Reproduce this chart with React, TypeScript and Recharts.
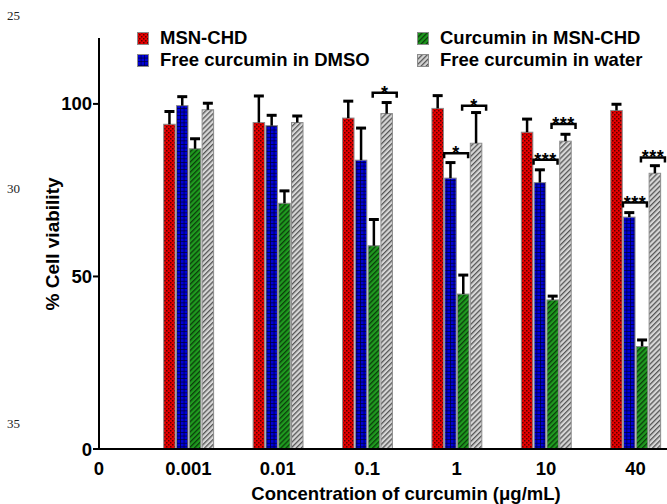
import { Bar, ComposedChart, Scatter, XAxis, YAxis } from "recharts";

const categories = ["0", "0.001", "0.01", "0.1", "1", "10", "40"];

// % cell viability (mean) and upper SD for each concentration 0.001 .. 40
const msnChd = [94.1, 94.6, 95.9, 98.7, 91.8, 98.1];
const msnChdErr = [3.7, 7.7, 4.9, 3.7, 3.8, 1.8];
const freeDmso = [99.5, 93.7, 83.7, 78.5, 77.2, 67.2];
const freeDmsoErr = [2.6, 3.0, 9.3, 4.5, 3.7, 1.3];
const curMsnChd = [87.0, 71.2, 58.9, 44.9, 43.2, 29.7];
const curMsnChdErr = [2.9, 3.6, 7.6, 5.5, 1.1, 1.9];
const freeWater = [98.3, 94.6, 97.2, 88.6, 89.2, 79.9];
const freeWaterErr = [1.9, 1.9, 3.2, 8.9, 2.0, 2.2];

// significance brackets
const bracketCats = ["0.1", "1", "1", "10", "10", "40", "40"];
const bracketPairs = ["gg", "bg", "gg", "bg", "gg", "bg", "gg"];
const bracketLevels = [103.2, 85.7, 99.5, 83.8, 94.2, 71.4, 84.5];
const bracketStars = ["*", "*", "*", "***", "***", "***", "***"];

const yTicks = [0, 50, 100];

const rows = msnChd.map((v, i) => ({
  pos: i + 1,
  msn: v,
  msnErr: msnChdErr[i],
  dmso: freeDmso[i],
  dmsoErr: freeDmsoErr[i],
  cur: curMsnChd[i],
  curErr: curMsnChdErr[i],
  water: freeWater[i],
  waterErr: freeWaterErr[i],
}));

const brackets = bracketCats.map((c, i) => ({
  pos: categories.indexOf(c),
  level: bracketLevels[i],
  pair: bracketPairs[i],
  stars: bracketStars[i],
}));

const FONT = "'Liberation Sans', Arial, Helvetica, sans-serif";

function Patterns({ suffix = "" }: { suffix?: string }) {
  return (
    <defs>
      <pattern id={"pRed" + suffix} width="4" height="4" patternUnits="userSpaceOnUse">
        <rect width="4" height="4" fill="#e80000" />
        <rect x="0" y="0" width="1.5" height="1.5" fill="#5a0000" />
        <rect x="2" y="2" width="1.5" height="1.5" fill="#5a0000" />
      </pattern>
      <pattern id={"pBlue" + suffix} width="3.6" height="3.6" patternUnits="userSpaceOnUse">
        <rect width="3.6" height="3.6" fill="#0000dc" />
        <rect x="0" y="0" width="3.6" height="0.7" fill="#000033" />
        <rect x="0" y="0" width="0.7" height="3.6" fill="#000033" />
      </pattern>
      <pattern id={"pGreen" + suffix} width="3.6" height="3.6" patternUnits="userSpaceOnUse" patternTransform="rotate(45)">
        <rect width="3.6" height="3.6" fill="#1f9a1f" />
        <rect x="0" y="0" width="1.3" height="3.6" fill="#0b3d0b" />
      </pattern>
      <pattern id={"pGray" + suffix} width="3.6" height="3.6" patternUnits="userSpaceOnUse" patternTransform="rotate(45)">
        <rect width="3.6" height="3.6" fill="#d6d6d6" />
        <rect x="0" y="0" width="1.3" height="3.6" fill="#555555" />
      </pattern>
    </defs>
  );
}

const makeShape = (valKey: string, errKey: string) => (props: any) => {
  const { x, y, width, height, fill, payload } = props;
  const v = payload[valKey];
  const e = payload[errKey];
  const k = v ? height / v : 0;
  const top = y - e * k;
  const cx = x + width / 2;
  return (
    <g>
      <rect x={x} y={y} width={width} height={height} fill={fill} stroke="#8c8c8c" strokeWidth={1} />
      <line x1={cx} y1={y} x2={cx} y2={top} stroke="#000" strokeWidth={2.5} />
      <line x1={cx - 5} y1={top} x2={cx + 5} y2={top} stroke="#000" strokeWidth={3} />
    </g>
  );
};

const BracketShape = (props: any) => {
  const { cx, cy, payload } = props;
  const mid = cx + (payload.pair === "gg" ? 17.5 : -0.5);
  const half = 12;
  return (
    <g>
      <path
        d={`M${mid - half},${cy + 5} V${cy} H${mid + half} V${cy + 5}`}
        fill="none"
        stroke="#000"
        strokeWidth={2.5}
      />
      <text
        x={mid}
        y={cy + 6}
        textAnchor="middle"
        fontSize={18}
        fontWeight="bold"
        fontFamily={FONT}
        letterSpacing={0.5}
        fill="#000"
      >
        {payload.stars}
      </text>
    </g>
  );
};

const legendItems = [
  { label: "MSN-CHD", fill: "pRed", left: 137, top: 27 },
  { label: "Curcumin in MSN-CHD", fill: "pGreen", left: 417, top: 27 },
  { label: "Free curcumin in DMSO", fill: "pBlue", left: 137, top: 49 },
  { label: "Free curcumin in water", fill: "pGray", left: 417, top: 49 },
];

const lineNumbers = [
  { n: "25", top: 8 },
  { n: "30", top: 181 },
  { n: "35", top: 416 },
];

export default function App() {
  return (
    <div
      style={{
        position: "absolute",
        left: 0,
        top: 0,
        width: 667,
        height: 504,
        overflow: "hidden",
        background: "#fff",
        fontFamily: FONT,
      }}
    >
      <ComposedChart
        width={667}
        height={504}
        data={rows}
        margin={{ top: 38, right: 0, bottom: 0, left: 0 }}
        barSize={11.5}
        barGap={1.3}
      >
        <Patterns />
        <XAxis
          type="number"
          dataKey="pos"
          domain={[0, 6.353]}
          allowDataOverflow
          ticks={[0, 1, 2, 3, 4, 5, 6]}
          tickFormatter={(i: number) => categories[i]}
          height={55}
          axisLine={{ stroke: "#000", strokeWidth: 2 }}
          tickLine={false}
          tickMargin={7}
          tick={{ fontSize: 18.5, fontWeight: "bold", fill: "#000", fontFamily: FONT }}
          label={{
            content: () => (
              <text x={406} y={500} textAnchor="middle" fontSize={18.5} fontWeight="bold" fontFamily={FONT} fill="#000">
                Concentration of curcumin (μg/mL)
              </text>
            ),
          }}
        />
        <YAxis
          type="number"
          domain={[0, 119.1]}
          allowDataOverflow
          ticks={yTicks}
          width={99}
          axisLine={{ stroke: "#000", strokeWidth: 2 }}
          tickLine={{ stroke: "#000", strokeWidth: 2 }}
          tickSize={6}
          tickMargin={1}
          tick={{ fontSize: 18.5, fontWeight: "bold", fill: "#000", fontFamily: FONT }}
          label={{
            content: () => (
              <text
                x={59}
                y={244}
                transform="rotate(-90 59 244)"
                textAnchor="middle"
                fontSize={19}
                fontWeight="bold"
                fontFamily={FONT}
                fill="#000"
              >
                % Cell viability
              </text>
            ),
          }}
        />
        <Bar dataKey="msn" fill="url(#pRed)" isAnimationActive={false} shape={makeShape("msn", "msnErr")} />
        <Bar dataKey="dmso" fill="url(#pBlue)" isAnimationActive={false} shape={makeShape("dmso", "dmsoErr")} />
        <Bar dataKey="cur" fill="url(#pGreen)" isAnimationActive={false} shape={makeShape("cur", "curErr")} />
        <Bar dataKey="water" fill="url(#pGray)" isAnimationActive={false} shape={makeShape("water", "waterErr")} />
        <Scatter data={brackets} dataKey="level" isAnimationActive={false} shape={<BracketShape />} />
      </ComposedChart>

      {legendItems.map((it) => (
        <div
          key={it.label}
          style={{ position: "absolute", left: it.left, top: it.top, display: "flex", alignItems: "center", height: 22 }}
        >
          <svg width={12} height={13} style={{ display: "block" }}>
            <Patterns suffix="-lg" />
            <rect x={0.5} y={0.5} width={11} height={12} fill={`url(#${it.fill}-lg)`} stroke="#8c8c8c" strokeWidth={1} />
          </svg>
          <span style={{ marginLeft: 11, fontSize: 18.5, fontWeight: "bold", color: "#000", whiteSpace: "nowrap" }}>
            {it.label}
          </span>
        </div>
      ))}

      {lineNumbers.map((l) => (
        <div
          key={l.n}
          style={{
            position: "absolute",
            left: 7,
            top: l.top,
            fontFamily: "'Liberation Serif', 'Times New Roman', serif",
            fontSize: 13,
            color: "#222",
          }}
        >
          {l.n}
        </div>
      ))}
    </div>
  );
}
